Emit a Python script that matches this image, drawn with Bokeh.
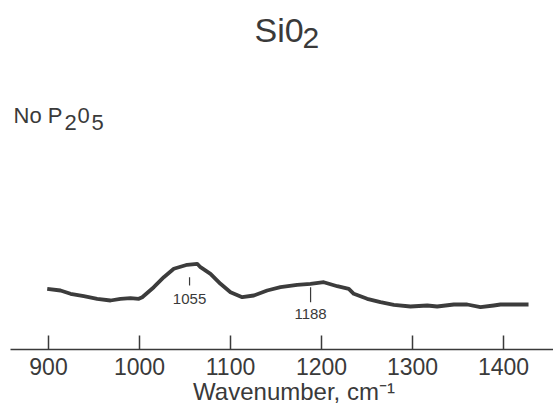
from bokeh.plotting import figure
from bokeh.models import Range1d, FixedTicker, Label
from bokeh.core.properties import value
from bokeh.embed import file_html
from bokeh.resources import INLINE

# ---- data (Raman spectrum, arbitrary intensity) ----
wavenumber = [898.6, 913.2, 924.2, 938.8, 953.5, 968.1, 979.1, 990.1, 999.2, 1003.0,
              1015.7, 1026.7, 1037.7, 1052.4, 1063.4, 1067.0, 1078.0, 1089.0, 1100.0,
              1112.9, 1125.6, 1140.3, 1154.9, 1173.3, 1187.9, 1202.5, 1217.3, 1230.0,
              1235.5, 1250.2, 1264.8, 1279.5, 1297.8, 1316.2, 1327.1, 1345.4, 1360.1,
              1374.7, 1389.3, 1396.7, 1427.5]
intensity = [60.7, 59.0, 55.7, 53.3, 50.7, 49.0, 50.7, 51.3, 50.7, 52.3,
             62.3, 72.3, 80.7, 84.7, 85.7, 82.3, 75.7, 65.7, 57.3,
             52.3, 54.0, 59.0, 62.3, 64.7, 65.7, 67.3, 63.3, 60.7,
             55.7, 50.7, 47.3, 44.7, 43.0, 44.0, 43.0, 45.0, 45.0,
             42.3, 44.0, 45.0, 45.0]
peak_positions = [1055, 1188]
peak_labels = ["1055", "1188"]
tick_values = [900, 1000, 1100, 1200, 1300, 1400]

# ---- layout / style ----
W, H = 553, 418
LEFT = 10
AXIS_Y = 349                      # pixel row of the axis line
PPU = 0.91                        # pixels per wavenumber unit
X0 = 900 + (LEFT - 48) / PPU
X1 = X0 + (W - LEFT) / PPU
INK = "#3a3a3a"
FONT = "Liberation Sans"

def wx(px):
    return X0 + (px - LEFT) / PPU

def iy(py):
    return AXIS_Y - py

p = figure(width=W, height=H, output_backend="svg", toolbar_location=None,
           x_range=Range1d(X0, X1), y_range=Range1d(0, AXIS_Y),
           min_border_left=LEFT, min_border_right=0, min_border_top=0,
           min_border_bottom=H - AXIS_Y)
p.outline_line_color = None
p.grid.visible = False
p.yaxis.visible = False
p.background_fill_color = "white"
p.border_fill_color = "white"

ax = p.xaxis[0]
ax.ticker = FixedTicker(ticks=tick_values)
ax.major_tick_in = 14
ax.major_tick_out = 0
ax.minor_tick_in = 0
ax.minor_tick_out = 0
ax.major_tick_line_width = 1.5
ax.major_tick_line_color = INK
ax.axis_line_width = 1.6
ax.axis_line_color = INK
ax.major_label_text_font = FONT
ax.major_label_text_font_size = "23px"
ax.major_label_text_color = INK
ax.major_label_standoff = 8
ax.axis_label = "\u2003Wavenumber, cm\u207b\u00b9"
ax.axis_label_text_font = FONT
ax.axis_label_text_font_size = "24px"
ax.axis_label_text_font_style = "normal"
ax.axis_label_text_color = INK
ax.axis_label_standoff = 0

p.line(wavenumber, intensity, line_width=3.8, line_color="#3c3c3c", line_join="round")

# peak markers
marker_top = [72.3, 62.3]
marker_bottom = [64.0, 47.3]
label_y = [iy(298), iy(313)]
p.segment(x0=peak_positions, y0=marker_top, x1=peak_positions, y1=marker_bottom,
          line_width=1.2, line_color=INK)
p.text(x=peak_positions, y=label_y, text=peak_labels, text_align="center",
       text_baseline="middle", text_font=value(FONT), text_font_size="15px",
       text_color=INK)

def add_text(txt, px, py_center, size):
    p.add_layout(Label(x=wx(px), y=iy(py_center), text=txt, text_font=FONT,
                       text_font_size=size, text_color=INK,
                       text_baseline="middle", text_align="left"))

# title "Si0" with a full-size lowered "2"
add_text("Si0", 254, 29.5, "34px")
add_text("2", 302, 37.5, "30px")
# "No P2O5" with lowered digits
add_text("No P", 13, 115, "22px")
add_text("2", 64, 121.5, "22px")
add_text("0", 77, 115, "22px")
add_text("5", 91, 121.5, "22px")

open("out.html", "w").write(file_html(p, INLINE))
